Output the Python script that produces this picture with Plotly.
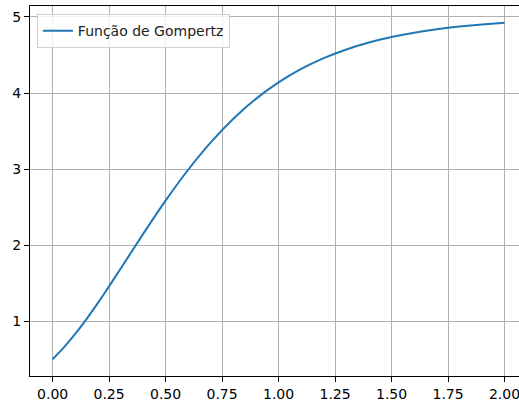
import plotly.graph_objects as go

t_values = [0.0, 0.05, 0.1, 0.15, 0.2, 0.25, 0.3, 0.4, 0.5, 0.6, 0.7, 0.8, 0.9, 1.0,
            1.1, 1.2, 1.3, 1.4, 1.5, 1.6, 1.7, 1.8, 1.9, 2.0]
y_values = [0.500, 0.656, 0.832, 1.027, 1.237, 1.458, 1.685, 2.144, 2.585, 2.991, 3.351,
            3.662, 3.923, 4.139, 4.316, 4.458, 4.573, 4.664, 4.736, 4.793, 4.838,
            4.874, 4.901, 4.923]
x_ticks = [0.0, 0.25, 0.5, 0.75, 1.0, 1.25, 1.5, 1.75, 2.0]
x_tick_labels = ["0.00", "0.25", "0.50", "0.75", "1.00", "1.25", "1.50", "1.75", "2.00"]
y_ticks = [1, 2, 3, 4, 5]
series_name = "Função de Gompertz"

fig = go.Figure()
fig.add_trace(go.Scatter(
    x=t_values, y=y_values, mode="lines", name=series_name,
    line=dict(color="#1f77b4", width=2, shape="spline", smoothing=0.6),
))

fig.update_layout(
    width=519, height=403,
    margin=dict(l=30, r=0, t=6, b=27, autoexpand=False),
    paper_bgcolor="white", plot_bgcolor="white",
    font=dict(family="DejaVu Sans", size=14, color="black"),
    showlegend=True,
    legend=dict(
        x=0.014, y=0.978, xanchor="left", yanchor="top",
        bgcolor="rgba(255,255,255,0.8)", bordercolor="#d0d0d0", borderwidth=1,
        font=dict(family="DejaVu Sans", size=14, color="#222"),
        itemwidth=30,
    ),
    xaxis=dict(
        range=[-0.1, 2.064], tickvals=x_ticks, ticktext=x_tick_labels,
        automargin=False, ticklabeloverflow="allow",
        showgrid=True, gridcolor="#b0b0b0", gridwidth=1,
        showline=True, linecolor="black", linewidth=1, mirror=True,
        ticks="outside", ticklen=5, tickcolor="black", zeroline=False,
    ),
    yaxis=dict(
        range=[0.279, 5.144], tickvals=y_ticks, automargin=False,
        showgrid=True, gridcolor="#b0b0b0", gridwidth=1,
        showline=True, linecolor="black", linewidth=1, mirror=False,
        ticks="outside", ticklen=5, tickcolor="black", zeroline=False,
    ),
)

body = fig.to_html(full_html=False, include_plotlyjs=True,
                   config={"displayModeBar": False})
html = ("<!DOCTYPE html><html><head><meta charset='utf-8'>"
        "<style>html,body{margin:0;padding:0;overflow:hidden;background:white;}</style>"
        "</head><body>" + body + "</body></html>")
with open("out.html", "w", encoding="utf-8") as f:
    f.write(html)
